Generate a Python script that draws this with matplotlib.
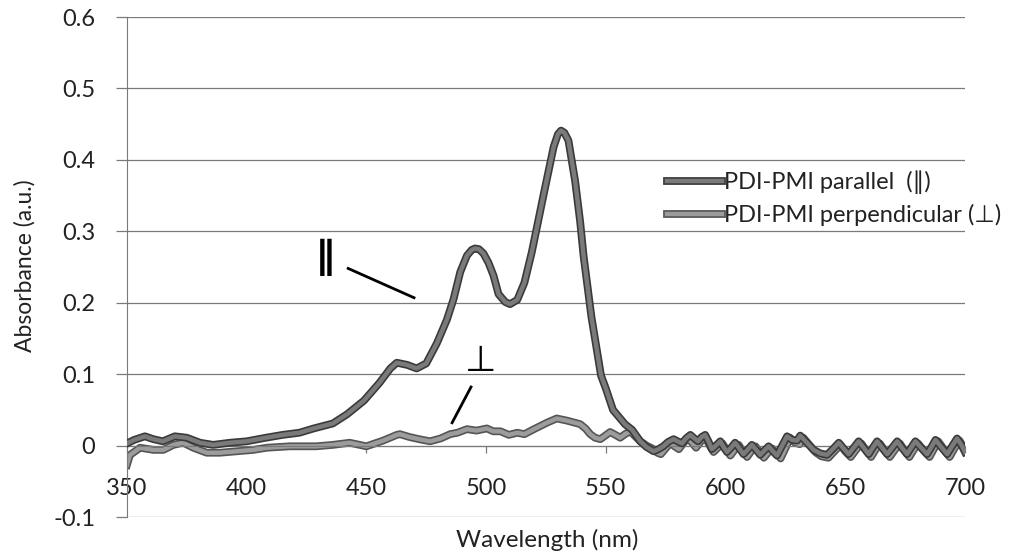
import matplotlib
matplotlib.use("Agg")
from matplotlib import pyplot as plt
import matplotlib.patheffects as pe

plt.rcParams['font.family'] = ['Lato', 'DejaVu Sans']

# PDI-PMI parallel, values
par_nm = [350, 353, 357.5, 361, 365, 370, 375, 380.5, 386, 393, 400, 408, 415, 422, 428,
          436, 442, 449, 455.5, 460, 462.7, 467, 471, 475, 479.4, 483.6, 486.4, 489.2,
          492, 494, 495.4, 497, 498.9, 501, 503.1, 505.2, 508, 510, 513, 516, 519.1, 524,
          528.2, 530, 531.3, 532.7, 534.4, 537.2, 539.3, 540.7, 544, 548, 550, 553, 556,
          558, 561, 564.4, 567,
          570, 572, 574, 576, 578.3, 580, 581.8, 583.5, 585.3, 587, 588.5, 590, 591.5,
          593, 594.3, 596, 597.8, 599.2, 600.6, 602.3, 604, 605.8, 607.5, 609.2, 611,
          612.8, 614.5, 616.2, 618, 619.8, 621.5, 623.5, 625.7, 627.8, 629.9, 631.2, 634,
          636.8, 639.6, 642.4, 644.8, 647.3, 649.3, 651.4, 653.5, 655.6, 657.7, 659.8,
          661.5, 663.3, 665.4, 667.5, 669.6, 671.7, 673.7, 675.8, 677.5, 679.3, 681.7,
          684.2, 686, 687.7, 690.1, 692.6, 694.6, 696.7, 698.5, 700]
par_abs = [0.003, 0.008, 0.013, 0.009, 0.006, 0.013, 0.011, 0.004, 0.001, 0.004, 0.006,
           0.011, 0.015, 0.018, 0.024, 0.031, 0.044, 0.063, 0.088, 0.108, 0.116, 0.113,
           0.108, 0.115, 0.143, 0.176, 0.205, 0.243, 0.266, 0.274, 0.276, 0.275, 0.269,
           0.256, 0.238, 0.212, 0.201, 0.198, 0.204, 0.228, 0.271, 0.351, 0.418, 0.436,
           0.441, 0.438, 0.427, 0.370, 0.313, 0.266, 0.180, 0.098, 0.080, 0.050, 0.038,
           0.030, 0.022, 0.006, -0.002,
           -0.008, -0.005, -0.001, 0.005, 0.009, 0.006, 0.003, 0.010, 0.015, 0.010, 0.006,
           0.012, 0.015, 0.005, -0.005, 0.000, 0.006, -0.002, -0.009, -0.003, 0.004,
           -0.004, -0.012, -0.006, 0.001, -0.006, -0.013, -0.007, -0.001, -0.008, -0.014,
           -0.001, 0.013, 0.008, 0.007, 0.014, 0.004, -0.006, -0.011, -0.013, -0.005,
           0.004, -0.004, -0.012, -0.003, 0.006, -0.003, -0.012, -0.003, 0.006, -0.003,
           -0.012, -0.003, 0.006, -0.003, -0.012, -0.003, 0.006, -0.003, -0.012, -0.002,
           0.008, -0.002, -0.012, -0.001, 0.010, 0.001, -0.009]

# PDI-PMI perpendicular
per_nm = [350, 351.3, 355.5, 361, 365.2, 369.4, 373.5, 377.7, 383.3, 388.8, 395.8, 402.8,
          408.4, 418, 429, 436, 443, 450, 457, 462.7, 464, 468, 472, 476.6, 481, 485,
          488, 492, 496, 500.3, 503, 506, 509.5, 513, 516, 520, 525.4, 529.5, 533.7,
          539.3, 541.5, 543.5, 545.5, 547.7, 549.8, 551.8, 554, 556, 558, 560.2, 562.3,
          564.4, 567, 570, 571.5, 573, 575, 577, 578.7, 580.5, 582.3, 584.3, 586, 587.7,
          589.5, 591.5, 593.2, 595, 596.8, 598.7, 600.4, 602, 603.8, 605.5, 607.2, 609,
          610.7, 612.5, 614.3, 616, 617.7, 619.5, 621.3, 623, 625, 627, 629, 631, 632.5,
          635, 637.5, 640, 643, 645.5, 648, 650, 652.3, 654.5, 656.7, 658.8, 660.8,
          662.6, 664.4, 666.5, 668.6, 670.7, 672.8, 674.8, 676.8, 678.6, 680.4, 682.8,
          685.2, 687, 688.8, 691.2, 693.6, 695.6, 697.7, 699, 700]
per_abs = [-0.027, -0.013, -0.003, -0.006, -0.006, 0.001, 0.004, -0.003, -0.010, -0.010,
           -0.008, -0.006, -0.003, -0.001, -0.001, 0.001, 0.004, -0.001, 0.007, 0.015,
           0.016, 0.012, 0.009, 0.006, 0.010, 0.016, 0.018, 0.023, 0.021, 0.024, 0.020,
           0.020, 0.015, 0.018, 0.016, 0.023, 0.032, 0.038, 0.035, 0.030, 0.024, 0.016,
           0.011, 0.009, 0.014, 0.019, 0.015, 0.011, 0.016, 0.020, 0.013, 0.006, 0.000,
           -0.005, -0.010, -0.012, -0.004, 0.004, -0.001, -0.005, 0.003, 0.011, 0.004,
           -0.003, 0.005, 0.012, 0.001, -0.009, -0.003, 0.003, -0.006, -0.014, -0.006,
           0.001, -0.008, -0.016, -0.008, -0.001, -0.009, -0.017, -0.010, -0.004, -0.011,
           -0.018, -0.004, 0.011, 0.004, 0.002, 0.011, 0.001, -0.009, -0.015, -0.017,
           -0.008, 0.001, -0.008, -0.016, -0.006, 0.003, -0.007, -0.016, -0.006, 0.003,
           -0.007, -0.016, -0.006, 0.003, -0.007, -0.016, -0.006, 0.003, -0.007, -0.016,
           -0.005, 0.006, -0.005, -0.016, -0.004, 0.007, 0.000, -0.006]

labels = ['PDI-PMI parallel  (\u2225)', 'PDI-PMI perpendicular (\u22a5)']
yticks = [-0.1, 0, 0.1, 0.2, 0.3, 0.4, 0.5, 0.6]
ytick_labels = ['-0.1', '0', '0.1', '0.2', '0.3', '0.4', '0.5', '0.6']
xticks = [350, 400, 450, 500, 550, 600, 650, 700]

fig = plt.figure(figsize=(10.1, 5.56), dpi=100)
ax = fig.add_axes([0.1257, 0.0701, 0.8297, 0.8993])

p1, = ax.plot(par_nm, par_abs, color='#7a7a7a', lw=3.2, solid_joinstyle='round',
              path_effects=[pe.Stroke(linewidth=5.6, foreground='#3a3a3a'), pe.Normal()],
              zorder=3)
p2, = ax.plot(per_nm, per_abs, color='#9c9c9c', lw=3.2, solid_joinstyle='round',
              path_effects=[pe.Stroke(linewidth=5.6, foreground='#555555'), pe.Normal()],
              zorder=2)

ax.set_xlim(350, 700)
ax.set_ylim(-0.1, 0.6)
ax.set_yticks(yticks)
ax.set_yticklabels(ytick_labels)
ax.set_xticks(xticks)
ax.yaxis.grid(True, color='#7a7a7a', lw=0.9)
ax.set_axisbelow(True)

for s in ['top', 'right']:
    ax.spines[s].set_visible(False)
ax.spines['bottom'].set_position(('data', 0))
ax.spines['bottom'].set_color('#7a7a7a')
ax.spines['left'].set_color('#7a7a7a')
ax.tick_params(axis='y', direction='out', length=8, width=0.9, color='#7a7a7a',
               labelsize=17, pad=15, labelcolor='#222222')
ax.tick_params(axis='x', direction='out', length=5, width=0.9, color='#7a7a7a',
               labelsize=17, pad=18, labelcolor='#222222')

fig.text(0.0248, 0.523, 'Absorbance (a.u.)', rotation=90, ha='center', va='center',
         fontsize=16.5, color='#222222')
fig.text(0.5416, 0.028, 'Wavelength (nm)', ha='center', va='center',
         fontsize=17.5, color='#222222')

# annotation marks next to the curves
ax.text(432.7, 0.263, '\u2225', fontsize=27, fontweight='bold', ha='center',
        va='center', color='black', family=['DejaVu Sans'])
ax.plot([442.4, 469.9], [0.248, 0.207], color='black', lw=2)
ax.text(497.9, 0.118, '\u22a5', fontsize=26, ha='center', va='center', color='black',
        family=['DejaVu Sans'])
ax.plot([493.7, 485.8], [0.082, 0.032], color='black', lw=2)

fig.legend([p1, p2], labels, loc='upper left', bbox_to_anchor=(0.649, 0.714),
           frameon=False, fontsize=17, handlelength=2.3, handletextpad=0.1,
           labelspacing=0.42, borderpad=0, labelcolor='#222222')

fig.savefig('out.png', dpi=100)
